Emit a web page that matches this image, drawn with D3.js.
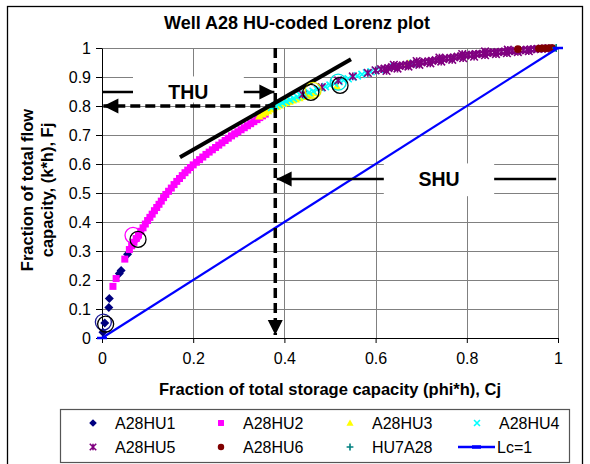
<!DOCTYPE html>
<html>
<head>
<meta charset="utf-8">
<script src="https://cdn.jsdelivr.net/npm/d3@7"></script>
<style>
body { margin: 0; background: #fff; }
text { font-family: "Liberation Sans", Arial, sans-serif; }
</style>
</head>
<body>
<script>
var width = 590;
var height = 464;

// ---- data ----
var xTicks = [0, 0.2, 0.4, 0.6, 0.8, 1];
var xTickLabels = ["0", "0.2", "0.4", "0.6", "0.8", "1"];
var yTicks = [0, 0.1, 0.2, 0.3, 0.4, 0.5, 0.6, 0.7, 0.8, 0.9, 1];
var yTickLabels = ["0", "0.1", "0.2", "0.3", "0.4", "0.5", "0.6", "0.7", "0.8", "0.9", "1"];

var hu1X = [0.002, 0.006, 0.015, 0.016, 0.038, 0.042, 0.056];
var hu1Y = [0.020, 0.052, 0.105, 0.136, 0.222, 0.233, 0.289];

var hu2X = [0.024, 0.031, 0.050, 0.060, 0.065, 0.070, 0.075, 0.080, 0.085, 0.090, 0.095, 0.100,
            0.105, 0.110, 0.115, 0.120, 0.125, 0.130, 0.135, 0.140, 0.146, 0.152, 0.158, 0.164,
            0.170, 0.176, 0.182, 0.188, 0.194, 0.200, 0.207, 0.214, 0.221, 0.228, 0.235, 0.242,
            0.249, 0.256, 0.263, 0.270, 0.277, 0.284, 0.291, 0.298, 0.305, 0.312, 0.319, 0.326,
            0.333, 0.340, 0.346, 0.352, 0.358];
var hu2Y = [0.178, 0.205, 0.272, 0.305, 0.318, 0.330, 0.343, 0.355, 0.368, 0.380, 0.393, 0.405,
            0.416, 0.427, 0.439, 0.450, 0.461, 0.472, 0.484, 0.495, 0.506, 0.517, 0.529, 0.540,
            0.550, 0.560, 0.570, 0.579, 0.588, 0.597, 0.606, 0.615, 0.624, 0.633, 0.641, 0.649,
            0.657, 0.665, 0.673, 0.681, 0.689, 0.697, 0.704, 0.711, 0.718, 0.725, 0.732, 0.739,
            0.746, 0.753, 0.760, 0.766, 0.772];

var hu3X = [0.345, 0.352, 0.358, 0.364, 0.370, 0.376, 0.383, 0.390, 0.397, 0.404, 0.411, 0.418,
            0.425, 0.433, 0.441, 0.449, 0.457, 0.465, 0.515, 0.671];
var hu3Y = [0.765, 0.772, 0.778, 0.783, 0.789, 0.794, 0.799, 0.803, 0.808, 0.812, 0.816, 0.820,
            0.824, 0.828, 0.832, 0.836, 0.840, 0.845, 0.868, 0.947];

var hu4X = [0.372, 0.380, 0.388, 0.396, 0.404, 0.412, 0.420, 0.428, 0.436, 0.445, 0.454, 0.463,
            0.472, 0.481, 0.490, 0.500, 0.510, 0.520, 0.530, 0.540, 0.550, 0.560, 0.570, 0.580,
            0.590, 0.600, 0.610, 0.640, 0.682];
var hu4Y = [0.795, 0.801, 0.806, 0.811, 0.816, 0.821, 0.826, 0.831, 0.836, 0.841, 0.846, 0.851,
            0.857, 0.862, 0.867, 0.872, 0.878, 0.884, 0.889, 0.894, 0.899, 0.904, 0.909, 0.914,
            0.918, 0.922, 0.925, 0.934, 0.947];

var hu5X = [0.440, 0.482, 0.518, 0.550, 0.583, 0.600, 0.612, 0.620, 0.628, 0.636, 0.644, 0.652,
            0.660, 0.668, 0.676, 0.684, 0.692, 0.700, 0.708, 0.716, 0.724, 0.732, 0.740, 0.748,
            0.756, 0.764, 0.772, 0.780, 0.788, 0.796, 0.804, 0.812, 0.820, 0.828, 0.836, 0.844,
            0.852, 0.860, 0.868, 0.876, 0.884, 0.892, 0.900, 0.908, 0.916, 0.924, 0.932, 0.940,
            0.948, 0.956, 0.964, 0.972, 0.980,
            0.624, 0.648, 0.672, 0.696, 0.720, 0.744, 0.768, 0.792, 0.816, 0.840, 0.864, 0.888,
            0.912, 0.936, 0.640, 0.690, 0.740, 0.790, 0.840, 0.890];
var hu5Y = [0.840, 0.865, 0.888, 0.902, 0.914, 0.923, 0.927, 0.929, 0.931, 0.934, 0.936, 0.938,
            0.940, 0.942, 0.944, 0.946, 0.948, 0.950, 0.952, 0.954, 0.956, 0.958, 0.960, 0.962,
            0.964, 0.966, 0.968, 0.970, 0.972, 0.974, 0.976, 0.977, 0.979, 0.980, 0.981, 0.983,
            0.984, 0.985, 0.986, 0.987, 0.988, 0.989, 0.990, 0.991, 0.992, 0.993, 0.994, 0.995,
            0.996, 0.997, 0.998, 0.998, 0.999,
            0.921, 0.929, 0.936, 0.942, 0.947, 0.953, 0.959, 0.965, 0.970, 0.975, 0.979, 0.982,
            0.986, 0.989, 0.942, 0.955, 0.967, 0.979, 0.988, 0.994];

var hu6X = [0.912, 0.958, 0.966, 0.974, 0.982, 0.988];
var hu6Y = [0.996, 0.998, 0.999, 0.999, 1.000, 1.000];

var hu7X = [0.996];
var hu7Y = [1.000];

var lcX = [0, 1];
var lcY = [0, 1];

// open circles marking the HU boundaries
var ringX = [0.003, 0.008, 0.068, 0.079, 0.463, 0.458, 0.518, 0.522];
var ringY = [0.055, 0.048, 0.354, 0.340, 0.854, 0.847, 0.882, 0.871];
var ringColor = ["#1a1a99", "#000", "#ff00ff", "#000", "#e6e600", "#000", "#00e0e0", "#000"];

// annotation lines (in data units)
var tangentX = [0.171, 0.546];
var tangentY = [0.623, 0.961];
var cutX = 0.38;
var cutY = 0.80;

var series = [
  { name: "A28HU1", xs: hu1X, ys: hu1Y, color: "#000080", shape: "diamond" },
  { name: "A28HU2", xs: hu2X, ys: hu2Y, color: "#ff00ff", shape: "square" },
  { name: "A28HU3", xs: hu3X, ys: hu3Y, color: "#ffff00", shape: "triangle" },
  { name: "A28HU4", xs: hu4X, ys: hu4Y, color: "#00ffff", shape: "x" },
  { name: "A28HU5", xs: hu5X, ys: hu5Y, color: "#800080", shape: "star" },
  { name: "A28HU6", xs: hu6X, ys: hu6Y, color: "#800000", shape: "circle" },
  { name: "HU7A28", xs: hu7X, ys: hu7Y, color: "#008080", shape: "plus" }
];

var svg = d3.select("body").append("svg")
            .attr("width", width)
            .attr("height", height);

var x = d3.scaleLinear().domain([0, 1]).range([102, 558]);
var y = d3.scaleLinear().domain([0, 1]).range([338, 48]);

function shapePath(shape, r) {
  if (shape == "diamond") return "M0," + (-r) + "L" + r + ",0L0," + r + "L" + (-r) + ",0Z";
  if (shape == "square") return "M" + (-r) + "," + (-r) + "h" + 2 * r + "v" + 2 * r + "h" + (-2 * r) + "Z";
  if (shape == "triangle") return "M0," + (-r) + "L" + r + "," + (r * 0.8) + "L" + (-r) + "," + (r * 0.8) + "Z";
  if (shape == "x") return "M" + (-r) + "," + (-r) + "L" + r + "," + r + "M" + r + "," + (-r) + "L" + (-r) + "," + r;
  if (shape == "star") return "M" + (-r) + "," + (-r) + "L" + r + "," + r + "M" + r + "," + (-r) + "L" + (-r) + "," + r + "M0," + (-r) + "L0," + r;
  if (shape == "plus") return "M" + (-r) + ",0H" + r + "M0," + (-r) + "V" + r;
  return "";
}
var shapeSize = { diamond: 4.5, square: 3.5, triangle: 4.2, x: 3.5, star: 3.8, circle: 3.8, plus: 4 };
var stroked = { x: true, star: true, plus: true };

function drawMarker(g, shape, color, cx, cy, k) {
  var r = shapeSize[shape] * (k || 1);
  if (shape == "circle") {
    g.append("circle").attr("cx", cx).attr("cy", cy).attr("r", r).attr("fill", color);
  } else if (stroked[shape]) {
    g.append("path").attr("transform", "translate(" + cx + "," + cy + ")")
     .attr("d", shapePath(shape, r)).attr("fill", "none")
     .attr("stroke", color).attr("stroke-width", 1.6);
  } else {
    g.append("path").attr("transform", "translate(" + cx + "," + cy + ")")
     .attr("d", shapePath(shape, r)).attr("fill", color);
  }
}

// arrow head
svg.append("defs").append("marker")
   .attr("id", "head")
   .attr("viewBox", "-16 -8 17 16")
   .attr("markerUnits", "userSpaceOnUse")
   .attr("markerWidth", 17).attr("markerHeight", 16)
   .attr("refX", 0).attr("refY", 0)
   .attr("orient", "auto")
   .append("path").attr("d", "M-15,-7.5L0,0L-15,7.5Z").attr("fill", "#000");

// outer frame
svg.append("rect")
   .attr("x", 7.5).attr("y", 6.5).attr("width", 575).attr("height", 480)
   .attr("fill", "#fff").attr("stroke", "#000").attr("stroke-width", 1.3);

// grid
var grid = svg.append("g").attr("stroke", "#808080").attr("stroke-width", 1);
grid.selectAll(".hg").data(yTicks.slice(1)).enter().append("line")
    .attr("x1", x(0)).attr("x2", x(1))
    .attr("y1", function(d) { return Math.round(y(d)) + 0.5; })
    .attr("y2", function(d) { return Math.round(y(d)) + 0.5; });
grid.selectAll(".vg").data(xTicks.slice(1)).enter().append("line")
    .attr("y1", y(0)).attr("y2", y(1))
    .attr("x1", function(d) { return Math.round(x(d)) + 0.5; })
    .attr("x2", function(d) { return Math.round(x(d)) + 0.5; });

// axes
var xAxis = d3.axisBottom(x).tickValues(xTicks)
              .tickFormat(function(d, i) { return xTickLabels[i]; })
              .tickSizeInner(5).tickSizeOuter(0).tickPadding(10);
var yAxis = d3.axisLeft(y).tickValues(yTicks)
              .tickFormat(function(d, i) { return yTickLabels[i]; })
              .tickSizeInner(6).tickSizeOuter(0).tickPadding(5);
var gx = svg.append("g").attr("transform", "translate(0," + y(0) + ")").call(xAxis);
var gy = svg.append("g").attr("transform", "translate(" + x(0) + ",0)").call(yAxis);
[gx, gy].forEach(function(g) {
  g.selectAll("text").attr("font-size", 16).attr("fill", "#000")
   .attr("font-family", "'Liberation Sans', Arial, sans-serif");
  g.selectAll("line,path").attr("stroke", "#000");
});

// series
var pts = svg.append("g");
series.forEach(function(s) {
  s.xs.forEach(function(v, i) {
    drawMarker(pts, s.shape, s.color, x(v), y(s.ys[i]));
  });
});

// Lc = 1 line
svg.append("path")
   .datum(lcX.map(function(v, i) { return [v, lcY[i]]; }))
   .attr("d", d3.line().x(function(d) { return x(d[0]); }).y(function(d) { return y(d[1]); }))
   .attr("stroke", "#0000ff").attr("stroke-width", 2.2).attr("fill", "none");
lcX.forEach(function(v, i) {
  svg.append("line").attr("x1", x(v) - 5).attr("x2", x(v) + 5)
     .attr("y1", y(lcY[i])).attr("y2", y(lcY[i]))
     .attr("stroke", "#0000ff").attr("stroke-width", 2.5);
});

// tangent line
svg.append("line")
   .attr("x1", x(tangentX[0])).attr("y1", y(tangentY[0]))
   .attr("x2", x(tangentX[1])).attr("y2", y(tangentY[1]))
   .attr("stroke", "#000").attr("stroke-width", 4);

// dashed cut-off lines
svg.append("line")
   .attr("x1", x(cutX)).attr("y1", y(1))
   .attr("x2", x(cutX)).attr("y2", y(0.01))
   .attr("stroke", "#000").attr("stroke-width", 3.5).attr("stroke-dasharray", "10,5")
   .attr("marker-end", "url(#head)");
svg.append("line")
   .attr("x1", x(cutX)).attr("y1", y(cutY))
   .attr("x2", x(0.003)).attr("y2", y(cutY))
   .attr("stroke", "#000").attr("stroke-width", 3.5).attr("stroke-dasharray", "10,5")
   .attr("marker-end", "url(#head)");

// THU / SHU callouts
function callout(yv, fromX, toX, boxX0, boxX1, boxY0, boxY1, label) {
  svg.append("line")
     .attr("x1", x(fromX)).attr("y1", y(yv)).attr("x2", x(toX)).attr("y2", y(yv))
     .attr("stroke", "#000").attr("stroke-width", 2.5)
     .attr("marker-end", "url(#head)");
  svg.append("rect")
     .attr("x", x(boxX0)).attr("y", y(boxY1))
     .attr("width", x(boxX1) - x(boxX0)).attr("height", y(boxY0) - y(boxY1))
     .attr("fill", "#fff");
  svg.append("text")
     .attr("x", (x(boxX0) + x(boxX1)) / 2).attr("y", y(yv) + 7)
     .attr("text-anchor", "middle").attr("font-weight", "bold").attr("font-size", 19.5)
     .text(label);
}
callout(0.848, 0.002, 0.378, 0.068, 0.311, 0.812, 0.902, "THU");
callout(0.548, 0.996, 0.383, 0.618, 0.86, 0.489, 0.602, "SHU");

// boundary rings
ringX.forEach(function(v, i) {
  svg.append("circle").attr("cx", x(v)).attr("cy", y(ringY[i])).attr("r", 8)
     .attr("fill", "none").attr("stroke", ringColor[i]).attr("stroke-width", 1.3);
});

// titles
svg.append("text").attr("x", 297).attr("y", 29)
   .attr("text-anchor", "middle").attr("font-weight", "bold").attr("font-size", 18)
   .text("Well A28 HU-coded Lorenz plot");
svg.append("text").attr("x", (x(0) + x(1)) / 2).attr("y", 395)
   .attr("text-anchor", "middle").attr("font-weight", "bold").attr("font-size", 16.5)
   .text("Fraction of total storage capacity (phi*h), Cj");
var yt = svg.append("text").attr("transform", "translate(33,190) rotate(-90)")
   .attr("text-anchor", "middle").attr("font-weight", "bold").attr("font-size", 16.5);
yt.append("tspan").attr("x", 0).attr("y", 0).text("Fraction of total flow");
yt.append("tspan").attr("x", 0).attr("y", 20).text("capacity, (k*h), Fj");

// legend
var lg = svg.append("g");
lg.append("rect").attr("x", 60.5).attr("y", 409.5).attr("width", 509).attr("height", 53)
  .attr("fill", "#fff").attr("stroke", "#555").attr("stroke-width", 1.2);
var colX = [93, 221, 350, 477];
var rowY = [423, 447];
series.forEach(function(s, i) {
  var cx = colX[i % 4], cy = rowY[Math.floor(i / 4)];
  drawMarker(lg, s.shape, s.color, cx, cy, 0.85);
  lg.append("text").attr("x", cx + 22).attr("y", cy).attr("dy", "0.36em")
    .attr("font-size", 16).text(s.name);
});
lg.append("line").attr("x1", 458).attr("x2", 495).attr("y1", rowY[1]).attr("y2", rowY[1])
  .attr("stroke", "#0000ff").attr("stroke-width", 2.5);
lg.append("line").attr("x1", 472).attr("x2", 481).attr("y1", rowY[1]).attr("y2", rowY[1])
  .attr("stroke", "#0000ff").attr("stroke-width", 3.5);
lg.append("text").attr("x", 497).attr("y", rowY[1]).attr("dy", "0.36em")
  .attr("font-size", 16).text("Lc=1");
</script>
</body>
</html>
